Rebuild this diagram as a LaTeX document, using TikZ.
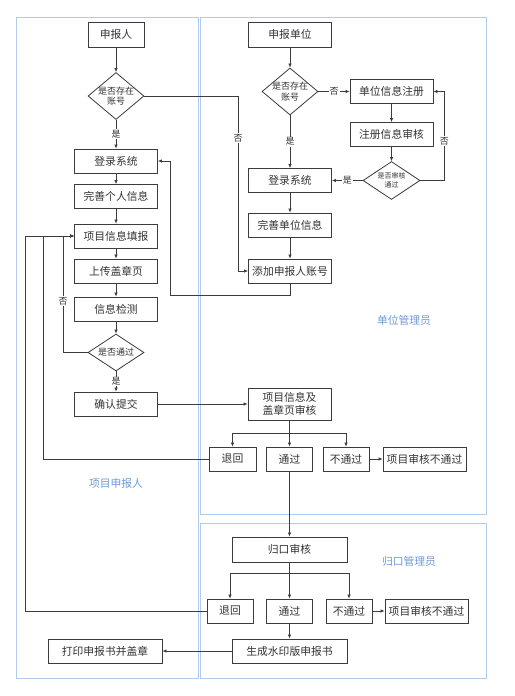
\documentclass[tikz,border=0pt]{standalone}
\usepackage{fontspec}
\newfontfamily\cjk{Noto Sans CJK SC}
\usetikzlibrary{positioning,arrows.meta,shapes.geometric}
\definecolor{FlowLine}{HTML}{3C3C3C}
\definecolor{FlowText}{HTML}{333333}
\definecolor{LaneLine}{HTML}{B3CBEA}
\definecolor{LaneText}{HTML}{6E9AD2}

\begin{document}
\begin{tikzpicture}[x=1pt, y=-1pt,
  stepbox/.style={draw=FlowLine, fill=white, line width=0.8pt, minimum width=83pt, minimum height=24pt, inner sep=1pt, align=center, text=FlowText, font=\cjk\fontsize{10.8}{12.5}\selectfont},
  small/.style={stepbox, minimum width=46pt},
  wide/.style={stepbox, minimum width=115pt},
  decide/.style={diamond, draw=FlowLine, fill=white, line width=0.8pt, inner sep=-4pt, minimum width=56pt, minimum height=47pt, align=center, text=FlowText, font=\cjk\fontsize{9}{10.5}\selectfont},
  lane/.style={draw=LaneLine, line width=1pt},
  lanelbl/.style={text=LaneText, font=\cjk\fontsize{10.8}{12}\selectfont},
  yn/.style={fill=white, inner sep=1pt, text=FlowText, font=\cjk\fontsize{9}{10}\selectfont},
  arrow/.style={-{Latex[length=4pt,width=3.5pt]}, draw=FlowLine, line width=0.7pt}
]
\useasboundingbox (0,0) rectangle (514,696);
% lanes
\draw[lane] (16,17) rectangle (198,678);
\draw[lane] (200,17) rectangle (486,514);
\draw[lane] (200,523) rectangle (486,678);
\node[lanelbl] (lblren) at (116,483) {项目申报人};
\node[lanelbl] (lblunit) at (404,320) {单位管理员};
\node[lanelbl] (lblgk) at (409,561) {归口管理员};

% applicant column
\node[stepbox, minimum width=56pt, minimum height=25pt] (ren) at (116,34.5) {申报人};
\node[decide] (hasacct) at (116,96) {是否存在\\账号};
\node[stepbox] (login) at (116,161) {登录系统};
\node[stepbox] (perinfo) at (116,196.5) {完善个人信息};
\node[stepbox] (fillin) at (116,236) {项目信息填报};
\node[stepbox] (upload) at (116,271) {上传盖章页};
\node[stepbox] (check) at (116,309) {信息检测};
\node[decide, minimum height=37pt] (passed) at (116,352.5) {是否通过};
\node[stepbox] (submit) at (116,404) {确认提交};
\node[stepbox, minimum width=114pt] (print) at (105,651) {打印申报书并盖章};

% unit admin column
\node[stepbox, minimum height=25pt] (unit) at (290,34.5) {申报单位};
\node[decide] (unitacct) at (290,91.5) {是否存在\\账号};
\node[stepbox] (reg) at (391.5,91.5) {单位信息注册};
\node[stepbox] (regcheck) at (391.5,134.5) {注册信息审核};
\node[decide, minimum width=57pt, minimum height=38pt, font=\cjk\fontsize{7}{8.5}\selectfont] (regok) at (391.5,180.5) {是否审核\\通过};
\node[stepbox] (unitlogin) at (290,180.5) {登录系统};
\node[stepbox] (unitinfo) at (290,225) {完善单位信息};
\node[stepbox] (addacct) at (290,271) {添加申报人账号};
\node[stepbox, minimum height=32pt] (review) at (289.5,404) {项目信息及\\盖章页审核};
\node[small, minimum width=47pt] (back) at (232.5,459) {退回};
\node[small] (ok) at (289.5,459) {通过};
\node[small] (fail) at (346,459) {不通过};
\node[stepbox] (reject) at (424.5,459) {项目审核不通过};

% gk admin
\node[wide, minimum height=25pt] (gkcheck) at (289.5,549.5) {归口审核};
\node[small] (gkback) at (230,611) {退回};
\node[small] (gkok) at (289.5,611) {通过};
\node[small] (gkfail) at (349,611) {不通过};
\node[stepbox] (gkreject) at (426.5,611) {项目审核不通过};
\node[wide] (gen) at (289.5,651) {生成水印版申报书};

% applicant flow
\draw[arrow] (ren) -- (hasacct);
\draw[arrow] (hasacct) -- node[yn]{是} (login);
\draw[arrow] (hasacct.east) -| node[yn, pos=0.62]{否} ([xshift=-10pt]addacct.west) -- (addacct.west);
\draw[arrow] (login) -- (perinfo);
\draw[arrow] (perinfo) -- (fillin);
\draw[arrow] (fillin) -- (upload);
\draw[arrow] (upload) -- (check);
\draw[arrow] (check) -- (passed);
\draw[arrow] (passed) -- node[yn]{是} (submit);
\draw[arrow] (passed.west) -| node[yn, pos=0.72]{否} ([xshift=-11pt]fillin.west) -- (fillin.west);
\draw[arrow] (submit) -- (review);

% unit flow
\draw[arrow] (unit) -- (unitacct);
\draw[arrow] (unitacct) -- node[yn]{否} (reg);
\draw[arrow] (unitacct) -- node[yn]{是} (unitlogin);
\draw[arrow] (reg) -- (regcheck);
\draw[arrow] (regcheck) -- (regok);
\draw[arrow] (regok) -- node[yn]{是} (unitlogin);
\draw[arrow] (regok.east) -| node[yn, pos=0.72]{否} ([xshift=11pt]reg.east) -- (reg.east);
\draw[arrow] (unitlogin) -- (unitinfo);
\draw[arrow] (unitinfo) -- (addacct);
\draw[arrow] (addacct.south) -- ++(0,12) -| ([xshift=12pt]login.east) -- (login.east);

% review results
\draw[arrow] (review.south) -- ++(0,13) -| (back);
\draw[arrow] (review.south) -- ++(0,13) -| (fail);
\draw[arrow] (review) -- (ok);
\draw[arrow] (fail) -- (reject);
\draw[arrow] (back.west) -| ([xshift=-31pt]fillin.west) -- (fillin.west);
\draw[arrow] (ok) -- (gkcheck);
\draw[arrow] (gkcheck.south) -- ++(0,11) -| (gkback);
\draw[arrow] (gkcheck.south) -- ++(0,11) -| (gkfail);
\draw[arrow] (gkcheck) -- (gkok);
\draw[arrow] (gkfail) -- (gkreject);
\draw[arrow] (gkback.west) -| ([xshift=-49pt]fillin.west) -- (fillin.west);
\draw[arrow] (gkok) -- (gen);
\draw[arrow] (gen) -- (print);
\end{tikzpicture}
\end{document}
